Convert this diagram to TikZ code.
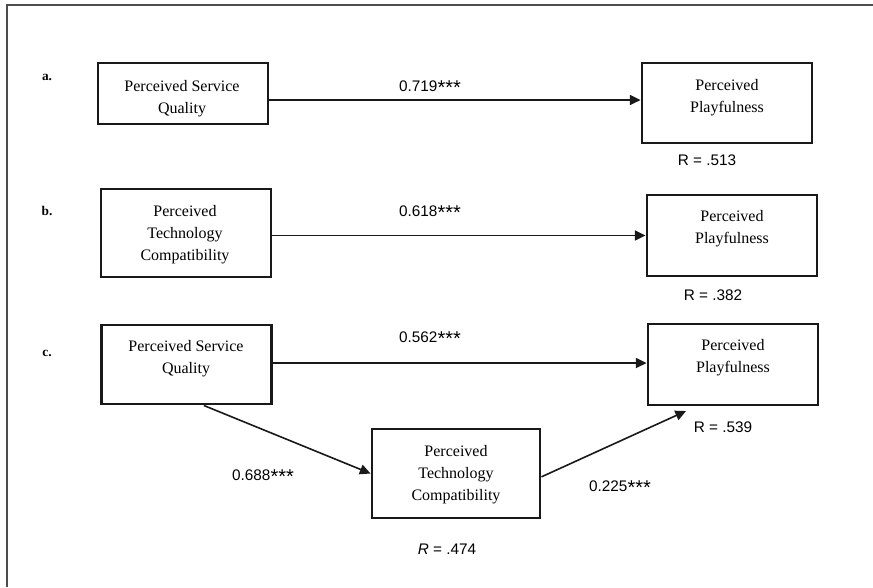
\documentclass[tikz,border=0pt]{standalone}
\usepackage{fontspec}
\setmainfont{Liberation Serif}
\newfontfamily\lblfont{Liberation Sans}
\usetikzlibrary{arrows.meta,calc}
\newcommand{\mystars}{\raisebox{-2.2pt}{\fontsize{15}{15}\selectfont ***}}
\begin{document}
\begin{tikzpicture}[x=0.75pt,y=-0.75pt,
  box/.style={draw=black!90, line width=2.2pt, inner sep=0pt, fill=white},
  txt/.style={align=center, font=\fontsize{12}{16.5}\selectfont, inner sep=0pt},
  lbl/.style={font=\lblfont\fontsize{11.5}{13}\selectfont, inner sep=0pt},
  lettr/.style={font=\bfseries\fontsize{10}{11}\selectfont, inner sep=0pt},
  arr/.style={line width=1.2pt, black!90, -{Triangle[length=8pt,width=7.5pt]}},
  frm/.style={line width=1.1pt, black!70}]
\useasboundingbox (0,0) rectangle (873,587);
\fill[white] (0,0) rectangle (873,587);
% frame
\coordinate (fbl) at (7,587);
\coordinate (ftl) at (7,5);
\coordinate (ftr) at (873,5);
\draw[frm] (fbl) -- (ftl) -- (ftr);
% letters
\node[lettr] (la) at (47,77) {a.};
\node[lettr] (lb) at (47,211) {b.};
\node[lettr] (lc) at (47,353) {c.};
% panel a
\node[box, minimum width=127.5pt, minimum height=45.75pt] (a1) at (183,93.5) {};
\node[txt] (a1t) at (182,99) {Perceived Service\\Quality};
\node[box, minimum width=127.5pt, minimum height=60pt] (a2) at (727,103) {};
\node[txt] (a2t) at (727,97.5) {Perceived\\Playfulness};
\draw[arr] ([yshift=-4.9pt]a1.east) -- ([yshift=-4.9pt]a1.east -| a2.west);
\node[lbl] (la1) at (430,88) {0.719\mystars};
\node[lbl] (ra) at (707,160) {R = .513};
% panel b
\node[box, minimum width=127.5pt, minimum height=66pt] (b1) at (186,233) {};
\node[txt] (b1t) at (185,235) {Perceived\\Technology\\Compatibility};
\node[box, minimum width=127.5pt, minimum height=60.75pt] (b2) at (732,235.5) {};
\node[txt] (b2t) at (732,229) {Perceived\\Playfulness};
\draw[arr] (b2.west -| b1.east) -- (b2.west);
\node[lbl] (lb1) at (430,213) {0.618\mystars};
\node[lbl] (rb) at (713,295) {R = .382};
% panel c
\node[box, minimum width=128pt, minimum height=59.25pt] (c1) at (186.5,364.5) {};
\node[txt] (c1t) at (186,358.5) {Perceived Service\\Quality};
\node[box, minimum width=127.5pt, minimum height=60.75pt] (c2) at (733,364.5) {};
\node[txt] (c2t) at (733,358) {Perceived\\Playfulness};
\node[box, minimum width=126pt, minimum height=66.75pt] (c3) at (456,473.5) {};
\node[txt] (c3t) at (456,475) {Perceived\\Technology\\Compatibility};
\draw[arr] ([yshift=1.1pt]c1.east) -- ([yshift=1.1pt]c1.east -| c2.west);
\coordinate (c1s) at ($(c1.south west)!0.6!(c1.south east)$);
\draw[arr] (c1s) -- (c3.west);
\coordinate (c2in) at (686,411);
\draw[arr] ([yshift=-2.5pt]c3.east) -- (c2in);
\node[lbl] (lc1) at (430,339) {0.562\mystars};
\node[lbl] (lc2) at (263,477) {0.688\mystars};
\node[lbl] (lc3) at (620,488) {0.225\mystars};
\node[lbl] (rc) at (723,427) {R = .539};
\node[lbl] (rc3) at (447,549) {\textit{R} = .474};
\end{tikzpicture}
\end{document}
